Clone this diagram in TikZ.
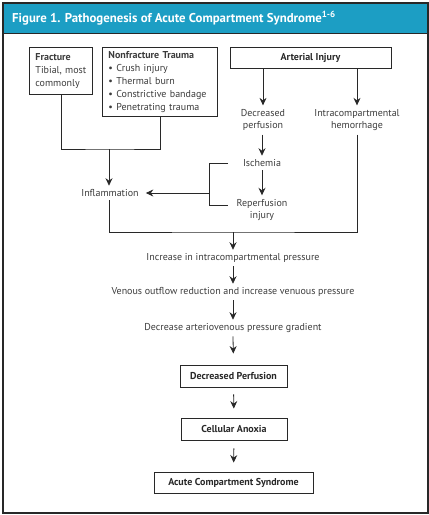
\documentclass[tikz,border=0pt]{standalone}
\usepackage{fontspec}
\setmainfont{PT Sans}
\usetikzlibrary{arrows.meta}
\definecolor{titlebar}{RGB}{28,158,196}
\definecolor{ink}{RGB}{40,40,40}
\definecolor{txt}{RGB}{60,60,60}
\begin{document}
\begin{tikzpicture}[x=1pt,y=-1pt,
  every node/.style={text=txt,font=\fontsize{10}{12.8}\selectfont},
  lbl/.style={inner xsep=3pt,inner ysep=3.5pt,align=center},
  box/.style={draw=ink,text=ink,line width=0.9pt,inner sep=0pt,align=center,font=\fontsize{10}{12.8}\selectfont\bfseries},
  src/.style={draw=ink,line width=0.9pt,anchor=north west,inner xsep=6pt,inner ysep=0pt,align=left},
  wire/.style={draw=ink,line width=0.8pt},
  arr/.style={wire,-{Stealth[length=7.5pt,width=7pt,inset=2.5pt]}}
]
\useasboundingbox (0,0) rectangle (429,515);
% frame and title
\fill[titlebar] (3,3) rectangle (428,33);
\draw[ink,line width=1pt] (3,33) -- (428,33);
\draw[ink,line width=1.2pt] (3,3) rectangle (428,513);
\node[anchor=west,text=white,inner sep=0pt,font=\fontsize{12.8}{14}\selectfont\bfseries] (title) at (12,18)
  {Figure 1. Pathogenesis of Acute Compartment Syndrome\textsuperscript{1-6}};

% sources
\node[src,minimum width=63pt,minimum height=47pt,text width=51pt] (fracture) at (29,47)
  {\textbf{Fracture}\\Tibial, most\\commonly};
\node[src,minimum width=115pt,minimum height=69pt,text width=103pt] (nonfrac) at (102,47)
  {\textbf{Nonfracture Trauma}\\\textbullet\ Crush injury\\\textbullet\ Thermal burn\\\textbullet\ Constrictive bandage\\\textbullet\ Penetrating trauma};
\node[box,minimum width=161pt,minimum height=21pt] (arterial) at (310.5,57.5) {Arterial Injury};

% middle labels
\node[lbl] (dp) at (263,120) {Decreased\\perfusion};
\node[lbl] (hem) at (357,120) {Intracompartmental\\hemorrhage};
\node[lbl] (isch) at (262,163) {Ischemia};
\node[lbl] (rep) at (262,210) {Reperfusion\\injury};
\node[lbl,inner xsep=7pt] (inflam) at (110,193) {Inflammation};

% chain
\node[lbl] (inc) at (233,258) {Increase in intracompartmental pressure};
\node[lbl] (ven) at (233,292) {Venous outflow reduction and increase venuous pressure};
\node[lbl] (dec) at (233,328) {Decrease arteriovenous pressure gradient};
\node[box,minimum width=107pt,minimum height=22pt] (decp) at (233.5,376) {Decreased Perfusion};
\node[box,minimum width=106pt,minimum height=22pt] (cell) at (234,429) {Cellular Anoxia};
\node[box,minimum width=159pt,minimum height=21pt] (acs) at (233.5,482.5) {Acute Compartment Syndrome};

% junctions
\coordinate (j1) at (109,149);
\coordinate (j2) at (233,232);
\coordinate (bt) at (209,163);
\coordinate (bb) at (209,205);
\coordinate (bm) at (209,193);
\coordinate (bte) at (228,163);
\coordinate (bbe) at (228,205);

% connectors
\draw[wire] (fracture.south) |- (j1) -| (nonfrac.south);
\draw[arr] (j1) -- (inflam.north -| j1);
\draw[arr] (arterial.south -| dp.north) -- (dp.north);
\draw[arr] (arterial.south -| hem.north) -- (hem.north);
\draw[arr] (dp.south -| isch.north) -- (isch.north);
\draw[arr] (isch.south) -- (rep.north);
\draw[wire] (bte) -- (bt) -- (bb) -- (bbe);
\draw[arr] (bm) -- (inflam.east);
\draw[wire] (hem.south) |- (j2) -| (inflam.south -| j1);
\draw[arr] (j2) -- (inc.north);
\draw[arr] (inc.south) -- (ven.north);
\draw[arr] (ven.south) -- (dec.north);
\draw[arr,shorten >=11pt] (dec.south) -- (decp.north);
\draw[arr,shorten <=7pt,shorten >=9pt] (decp.south) -- (cell.north);
\draw[arr,shorten <=8pt,shorten >=9pt] (cell.south) -- (acs.north);
\end{tikzpicture}
\end{document}
